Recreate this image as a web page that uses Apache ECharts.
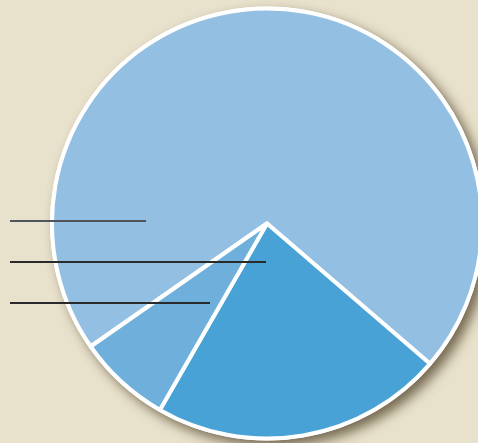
<!DOCTYPE html>
<html><head><meta charset="utf-8">
<script src="https://cdn.jsdelivr.net/npm/echarts@6/dist/echarts.min.js"></script>
<style>html,body{margin:0;padding:0;background:#e8e1cb;}#c{width:478px;height:443px;}</style>
</head><body><div id="c"></div>
<script>
const categories = ['A', 'B', 'C'];
const values = [71, 22, 7];
const colors = ['#93bfe3', '#48a2d5', '#6eb0db'];

const chart = echarts.init(document.getElementById('c'));
chart.setOption({
  backgroundColor: '#e8e1cb',
  animation: false,
  series: [{
    type: 'pie',
    silent: true,
    z: 1,
    center: [267, 223.5],
    radius: 217,
    label: { show: false },
    labelLine: { show: false },
    emphasis: { disabled: true },
    itemStyle: {
      color: '#ffffff',
      shadowBlur: 12,
      shadowOffsetX: 6,
      shadowOffsetY: 6,
      shadowColor: 'rgba(70,55,30,0.7)'
    },
    data: [{ name: 'bg', value: 1 }]
  }, {
    type: 'pie',
    z: 2,
    center: [267, 223.5],
    radius: 215,
    startAngle: 214.9,
    clockwise: true,
    label: { show: false },
    labelLine: { show: false },
    emphasis: { disabled: true },
    itemStyle: {
      borderColor: '#ffffff',
      borderWidth: 4
    },
    data: categories.map((c, i) => ({ name: c, value: values[i], itemStyle: { color: colors[i] } }))
  }],
  graphic: [
    { type: 'line', shape: { x1: 10, y1: 221, x2: 146, y2: 221 }, style: { stroke: '#50555c', lineWidth: 2 }, z: 100 },
    { type: 'line', shape: { x1: 10, y1: 262, x2: 266, y2: 262 }, style: { stroke: '#2a2a2a', lineWidth: 2 }, z: 100 },
    { type: 'line', shape: { x1: 10, y1: 303, x2: 210, y2: 303 }, style: { stroke: '#2a2a2a', lineWidth: 2 }, z: 100 }
  ]
});
</script></body></html>
